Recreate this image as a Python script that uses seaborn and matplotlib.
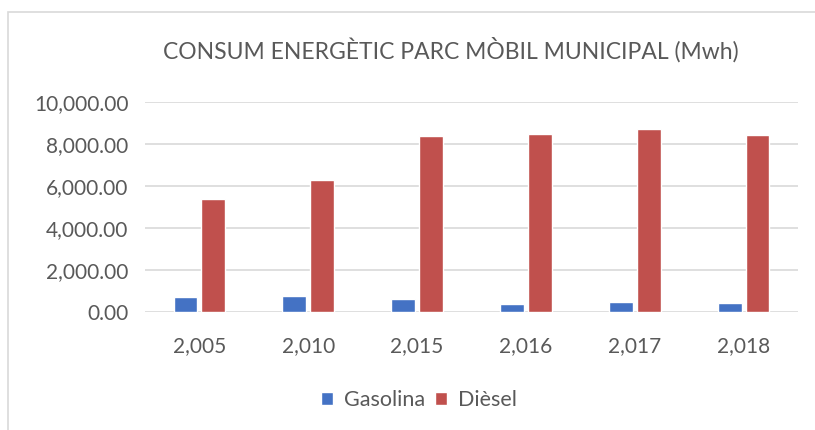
import pandas as pd
import seaborn as sns
import matplotlib.pyplot as plt
from matplotlib.patches import Rectangle, Patch
from matplotlib.ticker import FuncFormatter

# data (MWh)
years = [2005, 2010, 2015, 2016, 2017, 2018]
gasolina = [700, 760, 600, 380, 490, 430]
diesel = [5360, 6300, 8390, 8480, 8700, 8450]
series_names = ['Gasolina', 'Dièsel']
colors = ['#4472C4', '#C0504D']

labels = [f'{y:,}' for y in years]
df = pd.DataFrame({
    'any': labels * 2,
    'valor': gasolina + diesel,
    'tipus': [series_names[0]] * len(years) + [series_names[1]] * len(years),
})

sns.set_style('white')
plt.rcParams['font.family'] = ['Lato', 'DejaVu Sans']

W, H = 815, 430
fig = plt.figure(figsize=(W / 100, H / 100), dpi=100)
ax = fig.add_axes([145 / W, 1 - 312 / H, (798 - 145) / W, (312 - 102) / H])

# chart frame like the spreadsheet export
fig.patches.append(Rectangle((8 / W, -0.1), 1.2, 1.1 - 12 / H, transform=fig.transFigure,
                             fill=False, edgecolor='#D9D9D9', linewidth=1.2))

sns.barplot(data=df, x='any', y='valor', hue='tipus', palette=colors,
            width=0.51, gap=0.14, ax=ax, legend=False, saturation=1)

ax.set_ylim(0, 10000)
ax.set_yticks(range(0, 10001, 2000))
ax.yaxis.set_major_formatter(FuncFormatter(lambda v, p: f'{v:,.2f}'))
ax.grid(axis='y', color='#D9D9D9', linewidth=1.2)
ax.set_axisbelow(True)
for s in ax.spines.values():
    s.set_visible(False)
ax.set_xlabel('')
ax.set_ylabel('')
ax.tick_params(axis='both', length=0, labelsize=15, colors='#595959')
ax.tick_params(axis='y', pad=12)
ax.tick_params(axis='x', pad=17)

fig.text(451 / W, 1 - 50 / H, 'CONSUM ENERGÈTIC PARC MÒBIL MUNICIPAL (Mwh)',
         ha='center', va='center', fontsize=16.5, color='#595959')

handles = [Patch(facecolor=c, label=n) for c, n in zip(colors, series_names)]
fig.legend(handles=handles, loc='center', bbox_to_anchor=(419 / W, 1 - 400 / H), ncol=2,
           frameon=False, fontsize=15.5, handlelength=0.56, handleheight=0.56,
           handletextpad=0.5, columnspacing=0.45, labelcolor='#595959')

fig.savefig('out.png', dpi=100)
